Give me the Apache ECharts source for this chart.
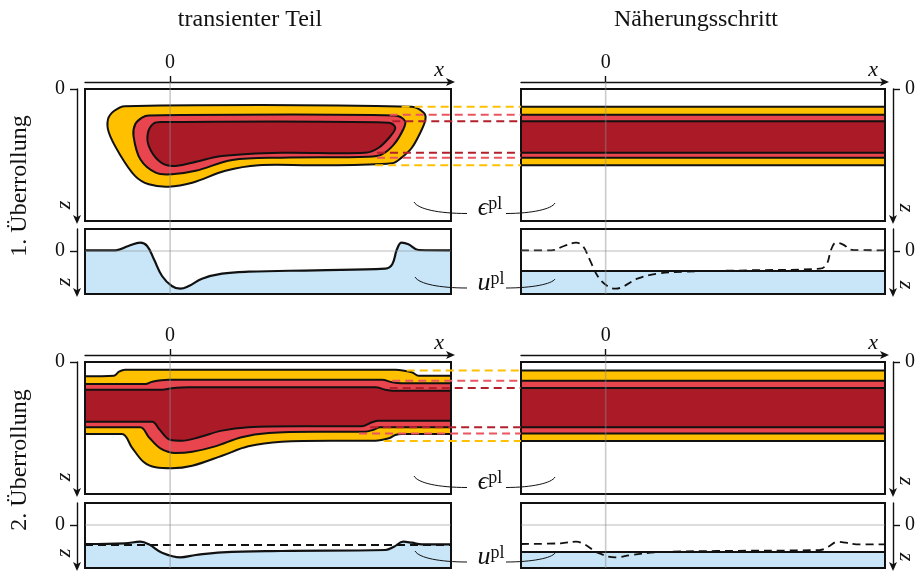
<!DOCTYPE html>
<html>
<head>
<meta charset="utf-8">
<script src="https://cdn.jsdelivr.net/npm/echarts@6/dist/echarts.min.js"></script>
<style>
  html, body { margin: 0; padding: 0; background: #fff; }
  #chart { width: 918px; height: 573px; }
</style>
</head>
<body>
<div id="chart"></div>
<script>
// ---- axis ranges ----
const X_MIN = -10, X_MAX = 33;
const Z_MAX = 10;
const U_MIN = -2.2, U_MAX = 4.3;

// ---- 1. Überrollung: transient plastic strain contours, outlines as (x, z) ----
const eps1Yellow = [[-5.3,1.3],[28.4,1.34],[29.8,1.8],[30.0,2.3],[29.4,3.3],[28.4,4.45],[27.2,5.2],[26.1,5.63],[17.1,5.78],[10.4,5.78],[6.5,6.2],[2.6,7.1],[-0.2,7.4],[-2.5,7.22],[-4.1,6.6],[-6.0,4.85],[-7.2,3.3],[-7.3,2.3],[-6.6,1.67]];
const eps1Pink = [[-2.5,2.0],[26.4,2.0],[27.6,2.42],[27.4,3.05],[26.3,4.2],[24.9,4.95],[23.3,5.13],[13.1,5.2],[7.3,5.38],[3.0,6.2],[0.2,6.46],[-1.7,6.34],[-3.5,5.33],[-4.3,3.56],[-4.1,2.67],[-3.3,2.17]];
const eps1Dark = [[-0.95,2.5],[25.7,2.55],[26.45,2.93],[25.9,3.56],[24.5,4.45],[22.9,4.83],[13.1,4.83],[6.1,5.08],[2.6,5.58],[0.2,5.83],[-1.3,5.45],[-2.5,4.32],[-2.6,3.31],[-1.9,2.6]];
// Näherungsschritt layers [zTop, zBottom]: yellow, pink, dark red
const eps1Layers = [[1.34,5.78],[1.95,5.2],[2.45,4.83]];
// u^pl transient profile (x, u) and approximated level
const u1 = [[-10,-0.07],[-6.4,-0.07],[-4.9,-0.5],[-3.5,-0.83],[-2.7,-0.5],[-1.9,0.83],[-0.95,2.5],[0.2,3.5],[1.2,3.77],[2.2,3.5],[3.75,2.77],[6.1,2.27],[9.2,2.07],[17.1,1.93],[25.3,1.77],[26.1,1.33],[26.65,-0.17],[27.2,-0.83],[28.0,-0.67],[29.2,-0.1],[33,-0.07]];
const u1Step = 2.0;

// ---- 2. Überrollung: transient layer boundaries (x, z) ----
const eps2YellowTop = [[-10,1.08],[-6.6,1.04],[-6.0,0.73],[-5.3,0.58],[26.5,0.58],[28.4,0.78],[29.2,1.04],[33,1.04]];
const eps2YellowBot = [[-10,5.45],[-5.65,5.45],[-4.5,6.46],[-3.1,7.58],[-1.7,7.98],[0.2,8.05],[2.6,7.86],[6.1,7.1],[9.2,6.39],[13.1,6.04],[19,5.96],[24.1,5.96],[25.7,5.78],[26.45,5.53],[27.2,5.45],[33,5.45]];
const eps2PinkTop = [[-10,1.67],[-2.9,1.67],[-2.1,1.49],[-0.2,1.34],[24.9,1.34],[26.1,1.54],[27.2,1.61],[33,1.61]];
const eps2PinkBot = [[-10,4.95],[-3.5,4.95],[-2.5,5.7],[-1.15,6.54],[0.6,6.89],[2.6,6.8],[5.3,6.39],[8.4,5.7],[11.6,5.38],[17.1,5.28],[22.9,5.28],[23.9,5.13],[24.7,4.95],[33,4.95]];
const eps2DarkTop = [[-10,2.1],[-0.95,2.1],[0.2,1.99],[2.2,1.92],[24.1,1.92],[25.3,2.1],[26.1,2.18],[33,2.18]];
const eps2DarkBot = [[-10,4.52],[-2.1,4.52],[-1.3,5.08],[0,5.89],[1.4,5.96],[3.4,5.7],[6.1,5.2],[9.2,4.95],[15.1,4.87],[22.5,4.87],[23.7,4.57],[24.5,4.45],[33,4.45]];
const eps2Layers = [[0.64,5.98],[1.42,5.42],[1.97,4.95]];
const u2 = [[-10,1.9],[-5.3,1.83],[-3.5,1.67],[-2.5,1.93],[-0.95,2.77],[1.2,3.23],[3.0,3.0],[6.1,2.73],[13.1,2.6],[25.3,2.5],[26.3,2.17],[27.4,1.67],[28.4,1.77],[29.6,1.93],[33,1.93]];
const u2Step = 2.7;

// x where the dashed layer links leave the transient field: [top, bottom] per layer
const link1Start = [[27.2,24.1],[25.8,24.3],[26.1,24.3]];
const link2Start = [[27.8,25.1],[26.1,22.2],[25.8,23.5]];

// ---- labels ----
const colTitles = ['transienter Teil', 'Näherungsschritt'];
const rowTitles = ['1. Überrollung', '2. Überrollung'];
const tickValues = [0];

// ---- styling ----
const SERIF = '"Liberation Serif", "DejaVu Serif", serif';
const LAYER_FILL = ['#FFC000', '#E8454F', '#AA1A27'];
const LAYER_DASH = ['#FFC000', '#EA5560', '#B3202D'];
const BLUE = '#C8E6F8';
const INK = '#111';
const LW = 2;

// grids: [left, top, width, height]
const grids = [
  [85, 89, 366, 132],  // 0 row1 transient eps
  [85, 229, 366, 65],  // 1 row1 transient u
  [521, 89, 365, 132], // 2 row1 approx eps
  [521, 229, 365, 65], // 3 row1 approx u
  [85, 362, 366, 132], // 4 row2 transient eps
  [85, 503, 366, 65],  // 5 row2 transient u
  [521, 362, 365, 132],// 6 row2 approx eps
  [521, 503, 365, 65]  // 7 row2 approx u
];

function xAxisFor(g, shown) {
  return {
    gridIndex: g, type: 'value', min: X_MIN, max: X_MAX, show: shown,
    position: 'top', offset: 7,
    name: 'x', nameLocation: 'end', nameGap: -7,
    nameTextStyle: { fontFamily: SERIF, fontStyle: 'italic', fontSize: 22, color: INK, align: 'right', verticalAlign: 'bottom', padding: [0, 0, 1, 0] },
    axisLine: { show: true, onZero: false, lineStyle: { color: INK, width: 1.4 }, symbol: ['none', 'arrow'], symbolSize: [6, 9], symbolOffset: [0, 4] },
    axisTick: { show: true, customValues: tickValues, length: 6, lineStyle: { color: INK, width: 1.4 } },
    axisLabel: { customValues: tickValues, fontFamily: SERIF, fontSize: 20, color: INK, margin: 9 },
    splitLine: { show: false }
  };
}
function yAxisFor(g, side, min, max) {
  return {
    gridIndex: g, type: 'value', inverse: true, min: min, max: max,
    position: side, offset: 8,
    axisLine: { show: true, onZero: false, lineStyle: { color: INK, width: 1.4 }, symbol: ['arrow', 'none'], symbolSize: [6, 9], symbolOffset: [-3, 0] },
    axisTick: { show: true, customValues: tickValues, length: 7, lineStyle: { color: INK, width: 1.4 } },
    axisLabel: { customValues: tickValues, fontFamily: SERIF, fontSize: 20, color: INK, margin: 12 },
    splitLine: { show: false }
  };
}

const xAxes = [], yAxes = [];
grids.forEach((g, i) => {
  const isEps = i % 2 === 0;
  const side = (i === 2 || i === 3 || i === 6 || i === 7) ? 'right' : 'left';
  xAxes.push(xAxisFor(i, isEps));
  yAxes.push(yAxisFor(i, side, isEps ? 0 : U_MIN, isEps ? Z_MAX : U_MAX));
});

// closed smooth contour drawn as one polygon
function blob(g, pts, color) {
  return {
    type: 'custom', xAxisIndex: g, yAxisIndex: g, clip: true, z: 3, silent: true,
    data: pts,
    renderItem(params, api) {
      if (params.dataIndex !== 0) return null;
      return {
        type: 'polygon',
        shape: { points: pts.map(p => api.coord(p)), smooth: 0.35 },
        style: { fill: color, stroke: INK, lineWidth: LW }
      };
    }
  };
}
// boundary line whose area is filled up to z = 0 (top of panel)
function edge(g, pts, fill) {
  return {
    type: 'line', xAxisIndex: g, yAxisIndex: g, data: pts, smooth: 0.35,
    symbol: 'none', silent: true, z: 3,
    lineStyle: { color: INK, width: LW },
    areaStyle: { color: fill, opacity: 1, origin: 'start' }
  };
}
// horizontal layers of the approximation step
function layers(g, lay) {
  return {
    type: 'custom', xAxisIndex: g, yAxisIndex: g, z: 3, silent: true,
    data: lay,
    renderItem(params, api) {
      const a = api.coord([X_MIN, api.value(0)]);
      const b = api.coord([X_MAX, api.value(1)]);
      return {
        type: 'rect',
        shape: { x: a[0], y: a[1], width: b[0] - a[0], height: b[1] - a[1] },
        style: { fill: LAYER_FILL[params.dataIndex], stroke: INK, lineWidth: LW }
      };
    }
  };
}
// displacement profile, filled down to the panel bottom
function uProfile(g, pts, smooth) {
  return {
    type: 'line', xAxisIndex: g, yAxisIndex: g, data: pts, smooth: smooth,
    symbol: 'none', silent: true, z: 3,
    lineStyle: { color: INK, width: 2.2 },
    areaStyle: { color: BLUE, opacity: 1, origin: 'end' }
  };
}
function dashedLine(g, pts, smooth) {
  return {
    type: 'line', xAxisIndex: g, yAxisIndex: g, data: pts, smooth: smooth,
    symbol: 'none', silent: true, z: 4,
    lineStyle: { color: INK, width: 1.8, type: [8, 5] }
  };
}
const flat = v => [[X_MIN, v], [X_MAX, v]];

const series = [
  // row 1
  blob(0, eps1Yellow, LAYER_FILL[0]),
  blob(0, eps1Pink, LAYER_FILL[1]),
  blob(0, eps1Dark, LAYER_FILL[2]),
  uProfile(1, u1, 0.4),
  layers(2, eps1Layers),
  uProfile(3, flat(u1Step), false),
  dashedLine(3, u1, 0.4),
  // row 2 – nested fills, painted from the deepest boundary upwards
  edge(4, eps2YellowBot, LAYER_FILL[0]),
  edge(4, eps2PinkBot, LAYER_FILL[1]),
  edge(4, eps2DarkBot, LAYER_FILL[2]),
  edge(4, eps2DarkTop, LAYER_FILL[1]),
  edge(4, eps2PinkTop, LAYER_FILL[0]),
  edge(4, eps2YellowTop, '#ffffff'),
  uProfile(5, u2, 0.4),
  dashedLine(5, flat(u1Step), false),
  layers(6, eps2Layers),
  uProfile(7, flat(u2Step), false),
  dashedLine(7, u2, 0.4)
];

const chart = echarts.init(document.getElementById('chart'), null, { renderer: 'canvas' });

const titleStyle = { fontFamily: SERIF, fontSize: 24, fontWeight: 'normal', color: INK };
chart.setOption({
  backgroundColor: '#fff',
  animation: false,
  title: [
    { text: colTitles[0], left: 245, top: 3, textAlign: 'center', textStyle: titleStyle },
    { text: colTitles[1], left: 691, top: 3, textAlign: 'center', textStyle: titleStyle }
  ],
  grid: grids.map(g => ({
    left: g[0], top: g[1], width: g[2], height: g[3], show: true,
    borderColor: INK, borderWidth: LW, backgroundColor: 'transparent', z: 6
  })),
  xAxis: xAxes,
  yAxis: yAxes,
  series: series
});

// ---- overlay: guide lines, layer links, annotations ----
const px = (g, p) => chart.convertToPixel({ gridIndex: g }, p);
const gfx = [];

// light x = 0 guides through each column, u = 0 guides in displacement panels
[[0, 1], [2, 3], [4, 5], [6, 7]].forEach(([ge, gu]) => {
  const a = px(ge, [0, 0]);
  const b = px(gu, [0, U_MAX]);
  gfx.push({ type: 'line', z: 7, silent: true, shape: { x1: a[0], y1: a[1] - 7, x2: a[0], y2: b[1] },
    style: { stroke: 'rgba(140,140,140,0.45)', lineWidth: 1.6 } });
  const l = px(gu, [X_MIN, 0]), r = px(gu, [X_MAX, 0]);
  gfx.push({ type: 'line', z: 7, silent: true, shape: { x1: l[0], y1: l[1], x2: r[0], y2: r[1] },
    style: { stroke: 'rgba(140,140,140,0.4)', lineWidth: 1.6 } });
});

// dashed links from the transient field to the approximated layers
function links(gl, gr, lay, starts) {
  lay.forEach((b, i) => {
    [0, 1].forEach(k => {
      const a = px(gl, [starts[i][k], b[k]]);
      const e = px(gr, [X_MIN, b[k]]);
      gfx.push({ type: 'line', z: 9, silent: true, shape: { x1: a[0], y1: a[1], x2: e[0], y2: a[1] },
        style: { stroke: LAYER_DASH[i], lineWidth: 2, lineDash: [8, 5] } });
    });
  });
}
links(0, 2, eps1Layers, link1Start);
links(4, 6, eps2Layers, link2Start);

// quantity labels with thin leader curves
function leader(x1, y1, x2, y2, c1x, c1y, c2x, c2y) {
  gfx.push({ type: 'bezierCurve', z: 9, silent: true,
    shape: { x1: x1, y1: y1, x2: x2, y2: y2, cpx1: c1x, cpy1: c1y, cpx2: c2x, cpy2: c2y },
    style: { stroke: INK, lineWidth: 1, fill: null } });
}
function quantity(sym, cx, cy) {
  gfx.push({ type: 'text', z: 9, silent: true, x: cx, y: cy,
    style: { text: '{i|' + sym + '}{s|pl}', align: 'center', verticalAlign: 'middle',
      rich: {
        i: { fontFamily: SERIF, fontStyle: 'italic', fontSize: 26, fill: INK, verticalAlign: 'bottom', lineHeight: 26 },
        s: { fontFamily: SERIF, fontSize: 18, fill: INK, verticalAlign: 'top', lineHeight: 17 }
      } } });
}
[0, 1].forEach(r => {
  const dy = r === 0 ? 0 : 274;
  // ε^pl
  leader(414, 202 + dy, 467, 213.5 + dy, 418, 209 + dy, 438, 213.5 + dy);
  leader(506, 213.5 + dy, 555, 203 + dy, 532, 213.5 + dy, 552, 209 + dy);
  quantity('\u03F5', 490, 208 + dy);
  // u^pl
  leader(415, 277 + dy, 467, 288 + dy, 419, 284 + dy, 440, 288 + dy);
  leader(506, 288 + dy, 555, 279 + dy, 532, 288 + dy, 552, 284 + dy);
  quantity('u', 491, 283 + dy);
});

// row titles and rotated z names
rowTitles.forEach((t, r) => {
  gfx.push({ type: 'text', silent: true, x: 20, y: r === 0 ? 186 : 460, rotation: Math.PI / 2,
    style: { text: t, fontFamily: SERIF, fontSize: 24, fill: INK, align: 'center', verticalAlign: 'middle' } });
});
const zNames = [[64, 205, 1], [64, 282, 1], [906, 208, -1], [906, 285, -1],
                [64, 477, 1], [64, 553, 1], [906, 481, -1], [906, 557, -1]];
zNames.forEach(([x, y, s]) => {
  gfx.push({ type: 'text', silent: true, x: x, y: y, rotation: s * Math.PI / 2,
    style: { text: 'z', fontFamily: SERIF, fontStyle: 'italic', fontSize: 22, fill: INK, align: 'center', verticalAlign: 'middle' } });
});

chart.setOption({ graphic: { elements: gfx } });
</script>
</body>
</html>
